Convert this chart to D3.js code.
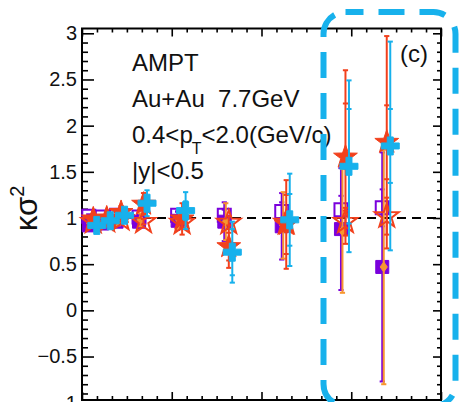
<!DOCTYPE html>
<html>
<head>
<meta charset="utf-8">
<script src="https://cdn.jsdelivr.net/npm/d3@7"></script>
<style>
  html, body { margin: 0; padding: 0; background: #fff; }
  svg { display: block; }
</style>
</head>
<body>
<script>
// Centrality classes, given as <Npart>
const npart = [12, 27, 43, 68, 111, 163, 227, 293, 339];

// purple open squares
const sqOpenVal = [1.02, 1.01, 1.03, 1.01, 1.03, 1.03, 1.07, 1.09, 1.11];
const sqOpenErr = [0.02, 0.02, 0.03, 0.03, 0.04, 0.06, 0.10, 0.15, 0.20];
// purple filled squares
const sqFillVal = [0.92, 0.94, 0.96, 0.96, 0.97, 0.96, 0.91, 0.88, 0.47];
const sqFillErr = [0.04, 0.05, 0.05, 0.07, 0.10, 0.21, 0.36, 0.66, 1.24];
// orange diamonds
const diaVal = [0.94, 0.95, 0.97, 0.98, 0.98, 0.96, 0.92, 0.86, 0.47];
const diaErr = [0.04, 0.05, 0.05, 0.07, 0.10, 0.20, 0.36, 0.67, 1.27];
// red open stars
const starOpenVal = [0.96, 0.97, 0.99, 0.96, 0.95, 0.95, 0.95, 0.96, 1.02];
const starOpenErr = [0.02, 0.02, 0.03, 0.03, 0.05, 0.07, 0.10, 0.15, 0.20];
// red filled stars (outer and inner error)
const starFillVal   = [0.99, 1.00, 1.06, 1.15, 0.99, 0.69, 0.93, 1.66, 1.82];
const starFillErr   = [0.05, 0.06, 0.07, 0.12, 0.17, 0.23, 0.48, 0.94, 1.15];
const starFillErrIn = [0.03, 0.03, 0.04, 0.07, 0.10, 0.15, 0.32, 0.58, 0.40];
// cyan crosses (outer and inner error)
const crossVal   = [0.92, 0.97, 1.03, 1.16, 1.08, 0.63, 0.98, 1.56, 1.78];
const crossErr   = [0.04, 0.05, 0.06, 0.14, 0.20, 0.33, 0.50, 0.93, 1.13];
const crossErrIn = [0.02, 0.03, 0.03, 0.07, 0.10, 0.25, 0.28, 0.62, 0.40];

const yTickValues = [3, 2.5, 2, 1.5, 1, 0.5, 0, -0.5, -1];
const yTickLabels = ["3", "2.5", "2", "1.5", "1", "0.5", "0", "\u22120.5", "\u22121"];
const xMajorTicks = [0, 100, 200, 300, 400];
const referenceLevel = 1;

const textLines = ["AMPT", "Au+Au\u00a0\u00a07.7GeV", "0.4<p_T<2.0(GeV/c)", "|y|<0.5"];
const panelTag = "(c)";

const W = 462, H = 402;
const frame = { left: 82, right: 441, top: 28.5, bottom: 400 };
const FONT = "'Liberation Sans', Arial, Helvetica, sans-serif";

const PURPLE = "#7a00dc", ORANGE = "#f7962f", RED = "#f2401c", CYAN = "#17b1ec";

const x = d3.scaleLinear().domain([0, 400]).range([frame.left, frame.right]);
const y = d3.scaleLinear().domain([-1, 3]).range([402.7, 33.3]);

const svg = d3.select("body").append("svg")
  .attr("width", W).attr("height", H)
  .attr("font-family", FONT);

// ---- axes (ticks point into the frame) ----
const yMinor = d3.range(-10, 31).map(d => d / 10)
  .filter(v => Math.abs(v * 2 - Math.round(v * 2)) > 1e-6 && y(v) > frame.top && y(v) < frame.bottom);
const xMinor = d3.range(0, 25).map(i => i * 100 / 6)
  .filter(v => Math.abs(v % 100) > 1e-6 && Math.abs(v % 100 - 100) > 1e-6);

function styleAxis(g) {
  g.select(".domain").remove();
  g.selectAll(".tick line").attr("stroke", "#000").attr("stroke-width", 1.6);
}

// left
svg.append("g").attr("transform", `translate(${frame.left},0)`)
  .call(d3.axisLeft(y).tickValues(yTickValues)
    .tickFormat((d, i) => yTickLabels[i]).tickSize(-12).tickSizeOuter(0).tickPadding(5))
  .call(styleAxis)
  .call(g => g.selectAll(".tick text").attr("font-size", 20).attr("fill", "#111")
    .attr("font-family", FONT));
svg.append("g").attr("transform", `translate(${frame.left},0)`)
  .call(d3.axisLeft(y).tickValues(yMinor).tickFormat("").tickSize(-6).tickSizeOuter(0))
  .call(styleAxis);
// right
svg.append("g").attr("transform", `translate(${frame.right},0)`)
  .call(d3.axisRight(y).tickValues(yTickValues.filter(v => y(v) < frame.bottom))
    .tickFormat("").tickSize(-8).tickSizeOuter(0))
  .call(styleAxis);
svg.append("g").attr("transform", `translate(${frame.right},0)`)
  .call(d3.axisRight(y).tickValues(yMinor).tickFormat("").tickSize(-4).tickSizeOuter(0))
  .call(styleAxis);
// top and bottom
[[frame.top, d3.axisTop], [frame.bottom, d3.axisBottom]].forEach(([py, ax]) => {
  svg.append("g").attr("transform", `translate(0,${py})`)
    .call(ax(x).tickValues(xMajorTicks).tickFormat("").tickSize(-8).tickSizeOuter(0))
    .call(styleAxis);
  svg.append("g").attr("transform", `translate(0,${py})`)
    .call(ax(x).tickValues(xMinor).tickFormat("").tickSize(-4).tickSizeOuter(0))
    .call(styleAxis);
});

// frame
svg.append("rect")
  .attr("x", frame.left).attr("y", frame.top)
  .attr("width", frame.right - frame.left).attr("height", frame.bottom - frame.top)
  .attr("fill", "none").attr("stroke", "#000").attr("stroke-width", 2);

// dashed reference line at unity
svg.append("line")
  .attr("x1", frame.left).attr("x2", frame.right)
  .attr("y1", y(referenceLevel)).attr("y2", y(referenceLevel))
  .attr("stroke", "#000").attr("stroke-width", 2).attr("stroke-dasharray", "9 6");

// ---- marker shapes ----
function starPath(R, r) {
  const pts = [];
  for (let i = 0; i < 10; i++) {
    const a = -Math.PI / 2 + i * Math.PI / 5;
    const rr = i % 2 ? r : R;
    pts.push([rr * Math.cos(a), rr * Math.sin(a)]);
  }
  return "M" + pts.map(p => p.join(",")).join("L") + "Z";
}
function crossPath(a, t) {
  return `M${-t},${-a}L${t},${-a}L${t},${-t}L${a},${-t}L${a},${t}L${t},${t}L${t},${a}` +
         `L${-t},${a}L${-t},${t}L${-a},${t}L${-a},${-t}L${-t},${-t}Z`;
}
const shapes = {
  square: "M-6.5,-6.5H6.5V6.5H-6.5Z",
  star: starPath(12.5, 5),
  cross: crossPath(9, 3),
  diamond: "M0,-5L3.6,0L0,5L-3.6,0Z"
};

const series = [
  { val: sqFillVal,   err: sqFillErr,   shape: "square",  filled: true,  color: PURPLE, bar: PURPLE, dx: -4 },
  { val: sqOpenVal,   err: sqOpenErr,   shape: "square",  filled: false, color: PURPLE, bar: PURPLE, dx: -4 },
  { val: diaVal,      err: diaErr,      shape: "diamond", filled: true,  color: ORANGE, bar: ORANGE, dx: -2.5 },
  { val: starOpenVal, err: starOpenErr, shape: "star",    filled: false, color: RED,    bar: RED,    dx: 0.5 },
  { val: starFillVal, err: starFillErr, errIn: starFillErrIn, shape: "star", filled: true, color: RED, bar: RED, dx: 0.5 },
  { val: crossVal,    err: crossErr,    errIn: crossErrIn, shape: "cross", filled: true, color: CYAN, bar: CYAN, dx: 4 }
];

series.forEach(s => {
  const g = svg.append("g");
  const pts = npart.map((n, i) => ({
    cx: x(n) + s.dx, v: s.val[i], e: s.err[i], ei: s.errIn ? s.errIn[i] : null
  }));
  // error bars
  pts.forEach(p => {
    g.append("line").attr("x1", p.cx).attr("x2", p.cx)
      .attr("y1", y(p.v + p.e)).attr("y2", y(p.v - p.e))
      .attr("stroke", s.bar).attr("stroke-width", 2);
    const caps = [p.v + p.e, p.v - p.e];
    if (p.ei !== null) caps.push(p.v + p.ei, p.v - p.ei);
    caps.forEach(c => {
      g.append("line").attr("x1", p.cx - 2.6).attr("x2", p.cx + 2.6)
        .attr("y1", y(c)).attr("y2", y(c))
        .attr("stroke", s.bar).attr("stroke-width", 2);
    });
  });
  // markers
  g.selectAll("path.m").data(pts).join("path").attr("class", "m")
    .attr("d", shapes[s.shape])
    .attr("transform", p => `translate(${p.cx},${y(p.v)})`)
    .attr("fill", s.filled ? s.color : "none")
    .attr("stroke", s.color)
    .attr("stroke-width", s.filled ? 1 : 2);
});

// ---- annotation text ----
const tx = svg.append("g").attr("font-size", 24).attr("fill", "#111");
const baselines = [71, 107, 143, 179];
textLines.forEach((line, i) => {
  const t = tx.append("text").attr("x", 132).attr("y", baselines[i]);
  if (line.includes("_")) {
    const [pre, rest] = line.split("_");
    t.append("tspan").text(pre);
    t.append("tspan").attr("font-size", 16).attr("dy", 11).attr("dx", -1).text(rest[0]);
    t.append("tspan").attr("dy", -11).text(rest.slice(1));
  } else {
    t.text(line);
  }
});
svg.append("text").attr("x", 400).attr("y", 62)
  .attr("font-size", 24).attr("fill", "#111").text(panelTag);

// y-axis title
const yt = svg.append("text")
  .attr("transform", "translate(37,231) rotate(-90)")
  .attr("font-size", 31).attr("fill", "#111");
yt.append("tspan").text("\u03ba\u03c3");
yt.append("tspan").attr("font-size", 20).attr("dy", -13).text("2");

// highlight box around the most central classes
svg.append("rect")
  .attr("x", 323.5).attr("y", 12).attr("width", 132).attr("height", 394)
  .attr("rx", 22).attr("ry", 22)
  .attr("fill", "none").attr("stroke", CYAN).attr("stroke-width", 6)
  .attr("stroke-dasharray", "26 15").attr("stroke-dashoffset", 8);
</script>
</body>
</html>
